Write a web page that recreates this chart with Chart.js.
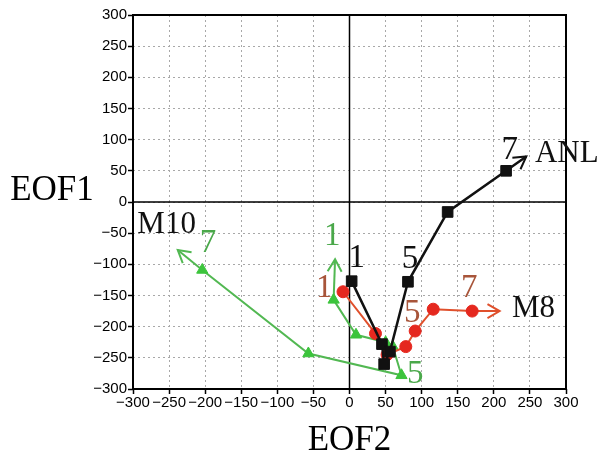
<!DOCTYPE html>
<html>
<head>
<meta charset="utf-8">
<script src="https://cdn.jsdelivr.net/npm/chart.js@4/dist/chart.umd.min.js"></script>
<style>
html, body { margin: 0; padding: 0; background: #fff; }
</style>
</head>
<body>
<canvas id="eofChart" width="602" height="461"></canvas>
<script>
// tick values shared by both axes
var tickValues = [-300, -250, -200, -150, -100, -50, 0, 50, 100, 150, 200, 250, 300];

// EOF2 (x) / EOF1 (y) coordinates, steps 1..7
var anlX = [3, 45, 48, 56, 81, 136, 217];
var anlY = [-127, -228, -260, -240, -128, -16, 50];
var anlArrow = [245, 73];

var m8X = [-9, 36, 52, 78, 91, 116, 170];
var m8Y = [-144, -211, -245, -232, -207, -172, -175];
var m8Arrow = [208, -175];

var m10X = [-22, 9, 50, 60, 72, -57, -204];
var m10Y = [-157, -213, -225, -232, -278, -243, -109];
var m10Arrow = [-238, -77];
var m10Start = [-20, -92];

var BLACK = '#111111';
var RED = '#e5281f';
var RED_LINE = '#e0502c';
var RED_TEXT = '#a8553a';
var GREEN = '#3cc43c';
var GREEN_LINE = '#52b852';
var GREEN_TEXT = '#4aa84a';

function toPoints(xs, ys, tip) {
    var pts = xs.map(function(x, i) { return { x: x, y: ys[i] }; });
    if (tip) pts.push({ x: tip[0], y: tip[1] });
    return pts;
}

function lastHidden(r) {
    return function(c) { return c.dataIndex === c.dataset.data.length - 1 ? 0 : r; };
}

// step labels, placed in data units
var notes = [
    { t: '1', x: 10, y: -90, c: BLACK },
    { t: '5', x: 84, y: -92, c: BLACK },
    { t: '7', x: 222, y: 83, c: BLACK },
    { t: '1', x: -35, y: -138, c: RED_TEXT },
    { t: '5', x: 87, y: -178, c: RED_TEXT },
    { t: '7', x: 166, y: -138, c: RED_TEXT },
    { t: '1', x: -24, y: -55, c: GREEN_TEXT },
    { t: '5', x: 91, y: -276, c: GREEN_TEXT },
    { t: '7', x: -196, y: -67, c: GREEN_TEXT }
];
var names = [
    { t: 'ANL', x: 257, y: 64 },
    { t: 'M8', x: 225, y: -184 },
    { t: 'M10', x: -294, y: -50 }
];

var SERIF = '"Liberation Serif", "DejaVu Serif", serif';

function arrowHead(ctx, x1, y1, x2, y2, color) {
    var ang = Math.atan2(y2 - y1, x2 - x1);
    var len = 14, spread = Math.PI / 6;
    ctx.save();
    ctx.strokeStyle = color;
    ctx.lineWidth = 2;
    ctx.beginPath();
    ctx.moveTo(x2 - len * Math.cos(ang - spread), y2 - len * Math.sin(ang - spread));
    ctx.lineTo(x2, y2);
    ctx.lineTo(x2 - len * Math.cos(ang + spread), y2 - len * Math.sin(ang + spread));
    ctx.stroke();
    ctx.restore();
}

var overlay = {
    id: 'overlay',
    beforeDatasetsDraw: function(chart) {
        var ctx = chart.ctx, a = chart.chartArea;
        var x0 = chart.scales.x.getPixelForValue(0);
        var y0 = chart.scales.y.getPixelForValue(0);
        ctx.save();
        ctx.strokeStyle = '#000';
        ctx.lineWidth = 1.5;
        ctx.beginPath();
        ctx.moveTo(x0, a.top); ctx.lineTo(x0, a.bottom);
        ctx.moveTo(a.left, y0); ctx.lineTo(a.right, y0);
        ctx.stroke();
        ctx.lineWidth = 2;
        ctx.strokeRect(a.left, a.top, a.right - a.left, a.bottom - a.top);
        ctx.restore();
    },
    afterDatasetsDraw: function(chart) {
        var ctx = chart.ctx;
        chart.data.datasets.forEach(function(ds, i) {
            if (!ds.arrow) return;
            var els = chart.getDatasetMeta(i).data;
            var p = els[els.length - 2], q = els[els.length - 1];
            arrowHead(ctx, p.x, p.y, q.x, q.y, ds.borderColor);
        });
        var xs = chart.scales.x, ys = chart.scales.y;
        ctx.save();
        ctx.font = '33px ' + SERIF;
        ctx.textAlign = 'center';
        ctx.textBaseline = 'middle';
        notes.forEach(function(n) {
            ctx.fillStyle = n.c;
            ctx.fillText(n.t, xs.getPixelForValue(n.x), ys.getPixelForValue(n.y));
        });
        ctx.font = '31px ' + SERIF;
        ctx.textAlign = 'left';
        ctx.textBaseline = 'alphabetic';
        ctx.fillStyle = BLACK;
        names.forEach(function(n) {
            ctx.fillText(n.t, xs.getPixelForValue(n.x), ys.getPixelForValue(n.y));
        });
        ctx.restore();
    },
    afterDraw: function(chart) {
        var ctx = chart.ctx, a = chart.chartArea;
        ctx.save();
        ctx.fillStyle = '#000';
        ctx.font = '35px ' + SERIF;
        ctx.textAlign = 'center';
        ctx.textBaseline = 'middle';
        ctx.fillText('EOF2', (a.left + a.right) / 2, a.bottom + 52);
        ctx.fillText('EOF1', 52, chart.scales.y.getPixelForValue(0) - 11);
        ctx.restore();
    }
};

function axis(pos) {
    return {
        type: 'linear',
        position: pos,
        min: -300,
        max: 300,
        afterBuildTicks: function(s) {
            s.ticks = tickValues.map(function(v) { return { value: v }; });
        },
        afterFit: function(s) {
            if (pos === 'left') s.width = 133; else s.height = 72;
            s.paddingLeft = 0; s.paddingRight = 0; s.paddingTop = 0; s.paddingBottom = 0;
        },
        border: { display: false, dash: [2, 3] },
        grid: {
            color: '#a8a8a8',
            lineWidth: 1,
            tickColor: '#000',
            tickLength: 5,
            tickWidth: 1.5,
            tickBorderDash: []
        },
        ticks: {
            autoSkip: false,
            maxRotation: 0,
            minRotation: 0,
            padding: pos === 'left' ? 1 : 0,
            color: '#000',
            font: { family: '"Liberation Sans", Arial, sans-serif', size: 15 },
            callback: function(v) { return String(v).replace('-', '\u2212'); }
        }
    };
}

var ctx = document.getElementById('eofChart').getContext('2d');
var eofChart = new Chart(ctx, {
    type: 'scatter',
    data: {
        datasets: [{
            label: 'ANL',
            data: toPoints(anlX, anlY, anlArrow),
            showLine: true,
            arrow: true,
            borderColor: BLACK,
            backgroundColor: BLACK,
            borderWidth: 2.5,
            pointStyle: 'rect',
            pointRadius: lastHidden(7.5),
            pointBorderWidth: 1
        }, {
            label: 'M8',
            data: toPoints(m8X, m8Y, m8Arrow),
            showLine: true,
            arrow: true,
            borderColor: RED_LINE,
            backgroundColor: RED,
            borderWidth: 2,
            pointStyle: 'circle',
            pointRadius: lastHidden(6),
            pointBorderColor: RED,
            pointBorderWidth: 1
        }, {
            label: 'M10',
            data: toPoints(m10X, m10Y, m10Arrow),
            showLine: true,
            arrow: true,
            borderColor: GREEN_LINE,
            backgroundColor: GREEN,
            borderWidth: 2,
            pointStyle: 'triangle',
            pointRadius: lastHidden(6.5),
            pointBorderColor: GREEN,
            pointBorderWidth: 1
        }, {
            label: 'M10 start',
            data: [{ x: m10X[0], y: m10Y[0] }, { x: m10Start[0], y: m10Start[1] }],
            showLine: true,
            arrow: true,
            borderColor: GREEN_LINE,
            borderWidth: 2,
            pointRadius: 0
        }]
    },
    options: {
        responsive: false,
        animation: false,
        layout: { padding: { left: 0, right: 36, top: 15, bottom: 0 } },
        scales: {
            x: axis('bottom'),
            y: axis('left')
        },
        plugins: {
            legend: { display: false },
            tooltip: { enabled: false }
        }
    },
    plugins: [overlay]
});
</script>
</body>
</html>
